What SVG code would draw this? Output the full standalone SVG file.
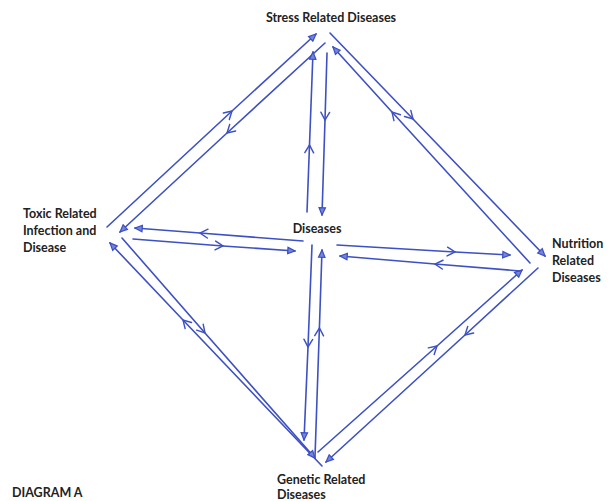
<svg xmlns="http://www.w3.org/2000/svg" width="613" height="501" viewBox="0 0 613 501">
<style>
.lbl{font-family:Lato,"Open Sans","Liberation Sans",sans-serif;font-weight:bold;font-size:12.5px;fill:#222}
.ln{fill:none;stroke:#3d50c4;stroke-width:1.6;stroke-linecap:round;marker-mid:url(#chev);marker-end:url(#tri)}
</style>
<defs>
<marker id="tri" viewBox="0 0 10 10" refX="9" refY="5" markerWidth="9" markerHeight="9" markerUnits="userSpaceOnUse" orient="auto">
<path d="M1,1.5 L9,5 L1,8.5 Z" fill="#7585da" stroke="#3d50c4" stroke-width="1.4"/>
</marker>
<marker id="chev" viewBox="0 0 10 10" refX="8" refY="5" markerWidth="11" markerHeight="11" markerUnits="userSpaceOnUse" orient="auto">
<path d="M1,1 L8,5 L1,9" fill="none" stroke="#3d50c4" stroke-width="1.3" stroke-linecap="round"/>
</marker>
</defs>
<rect width="613" height="501" fill="#fff"/>
<g id="connectors">
<path class="ln" d="M107,227 L232,111 L316,34"/>
<path class="ln" d="M325,43 L227,133 L120,232"/>
<path class="ln" d="M330,33 L413,119 L545,256"/>
<path class="ln" d="M530,263 L392,112 L333,47"/>
<path class="ln" d="M538,268 L465,335 L326,462"/>
<path class="ln" d="M318,452 L437,346 L522,270"/>
<path class="ln" d="M322,466 L183,320 L110,243"/>
<path class="ln" d="M122,238 L205,333 L315,458"/>
<path class="ln" d="M303,241 L200,233 L135,228"/>
<path class="ln" d="M133,239 L223,246 L295,251"/>
<path class="ln" d="M337,245 L455,252 L510,255"/>
<path class="ln" d="M520,271 L435,264 L340,256"/>
<path class="ln" d="M307,212 L309.5,145 L313,52"/>
<path class="ln" d="M327,53 L325,120 L322,215"/>
<path class="ln" d="M312,245 L308,347 L304,440"/>
<path class="ln" d="M315,457 L319.4,328 L322,250"/>
</g>
<g id="stress"><text class="lbl" x="331" y="22" text-anchor="middle">Stress Related Diseases</text></g>
<g id="toxic"><text class="lbl" x="23" y="218">Toxic Related</text><text class="lbl" x="23" y="235">Infection and</text><text class="lbl" x="23" y="252">Disease</text></g>
<g id="diseases"><text class="lbl" x="317" y="233" text-anchor="middle">Diseases</text></g>
<g id="nutrition"><text class="lbl" x="552" y="248">Nutrition</text><text class="lbl" x="552" y="265">Related</text><text class="lbl" x="552" y="282">Diseases</text></g>
<g id="genetic"><text class="lbl" x="277" y="484">Genetic Related</text><text class="lbl" x="277" y="499">Diseases</text></g>
<g id="title"><text class="lbl" x="12" y="497">DIAGRAM A</text></g>
</svg>
